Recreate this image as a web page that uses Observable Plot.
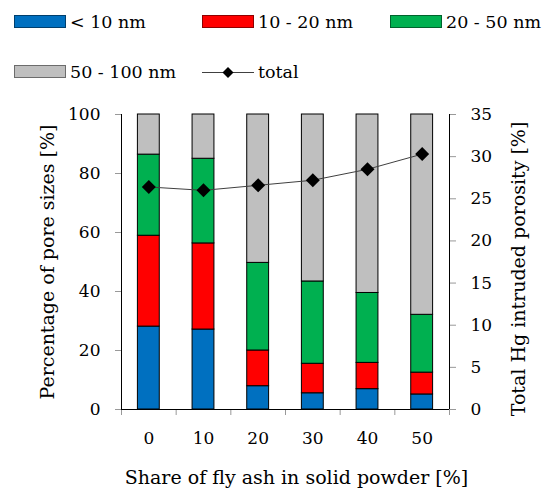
<!DOCTYPE html>
<html><head><meta charset="utf-8">
<script src="https://cdn.jsdelivr.net/npm/d3@7"></script>
<script src="https://cdn.jsdelivr.net/npm/@observablehq/plot@0.6"></script>
<style>
body{margin:0;background:#fff;font-family:"DejaVu Serif",serif;}
svg{display:block;}
</style></head><body>
<div id="legend"></div>
<div id="chart"></div>
<script>
// ---- data ----
const shares = [0, 10, 20, 30, 40, 50];               // share of fly ash [%]
const seriesNames = ["< 10 nm", "10 - 20 nm", "20 - 50 nm", "50 - 100 nm"];
const below10 = [28.1, 27.1, 7.9, 5.5, 6.9, 5.1];
const from10to20 = [30.8, 29.2, 12.1, 10.0, 8.9, 7.4];
const from20to50 = [27.5, 28.7, 29.7, 27.9, 23.7, 19.6];
const from50to100 = [13.6, 15.0, 50.3, 56.6, 60.5, 67.9];
const totalPorosity = [26.4, 26.0, 26.6, 27.2, 28.5, 30.3]; // right axis [%]
const leftTicks = [0, 20, 40, 60, 80, 100];
const rightTicks = [0, 5, 10, 15, 20, 25, 30, 35];
const rightMax = 35;
const totalName = "total";
const xLabel = "Share of fly ash in solid powder [%]";
const yLabel = "Percentage of pore sizes [%]";
const y2Label = "Total Hg intruded porosity [%]";

// ---- styles ----
const colors = ["#0070C0", "#FF0000", "#00B050", "#BFBFBF"];
const halfBar = 2;

const seriesValues = [below10, from10to20, from20to50, from50to100];
const rows = [];
seriesValues.forEach((vals, si) => vals.forEach((v, i) => rows.push({share: shares[i], series: seriesNames[si], value: v})));
const totals = shares.map((s, i) => ({share: s, total: totalPorosity[i]}));
const toLeft = v => v * 100 / rightMax;

// ---- legend ----
const lg = d3.select("#legend").append("svg").attr("width", 544).attr("height", 100)
  .style("font-family", "DejaVu Serif").style("font-size", "17.5px");
const legendItems = [
  {i: 0, x: 14, y: 15, h: 13, tx: 70, ty: 28},
  {i: 1, x: 202, y: 15, h: 13, tx: 258, ty: 28},
  {i: 2, x: 390, y: 15, h: 13, tx: 446, ty: 28},
  {i: 3, x: 14, y: 65, h: 13, tx: 70, ty: 78}
];
legendItems.forEach(it => {
  lg.append("rect").attr("x", it.x + 0.5).attr("y", it.y + 0.5).attr("width", 51).attr("height", it.h - 1)
    .attr("fill", colors[it.i]).attr("stroke", d3.color(colors[it.i]).darker(1.6)).attr("stroke-width", 1);
  lg.append("text").attr("x", it.tx).attr("y", it.ty).text(seriesNames[it.i]);
});
lg.append("line").attr("x1", 202).attr("x2", 254).attr("y1", 72.5).attr("y2", 72.5).attr("stroke", "#404040").attr("stroke-width", 1);
lg.append("path").attr("d", "M228,67 L233.5,72.5 L228,78 L222.5,72.5Z").attr("fill", "#000");
lg.append("text").attr("x", 258).attr("y", 78).text(totalName);

// ---- chart ----
const chart = Plot.plot({
  width: 544,
  height: 390,
  marginTop: 14,
  marginBottom: 81,
  marginLeft: 121,
  marginRight: 95,
  style: {fontFamily: "DejaVu Serif", fontSize: "17px", background: "white", color: "black", overflow: "visible"},
  x: {domain: [-5, 55], axis: null},
  y: {domain: [0, 100], axis: null},
  color: {domain: seriesNames, range: colors},
  marks: [
    Plot.rectY(rows, {x: "share", x1: d => d.share - halfBar, x2: d => d.share + halfBar, y: "value", fill: "series", stroke: "#000", strokeWidth: 1}),
    Plot.line(totals, {x: "share", y: d => toLeft(d.total), stroke: "#404040", strokeWidth: 1}),
    Plot.dot(totals, {x: "share", y: d => toLeft(d.total), symbol: "diamond2", r: 6.3, fill: "#000", stroke: "none"}),
    Plot.axisY(leftTicks, {anchor: "left", tickSize: 6, tickPadding: 15, stroke: "#999", label: null, fontSize: 17}),
    Plot.axisY(rightTicks.map(toLeft), {anchor: "right", tickSize: 6, tickPadding: 15, stroke: "#999", label: null, fontSize: 17, tickFormat: v => Math.round(v * rightMax / 100)}),
    Plot.axisX(d3.range(shares.length + 1).map(i => i * 10 - 5), {tickSize: 6, stroke: "#999", tickFormat: () => "", label: null}),
    Plot.axisX(shares, {tickSize: 0, tickPadding: 22, label: null, fontSize: 17}),
    Plot.ruleX([-5, 55], {stroke: "#000"}),
    Plot.ruleY([0], {stroke: "#000"}),
    Plot.text([yLabel], {frameAnchor: "left", rotate: -90, dx: -74, textAnchor: "middle", lineAnchor: "middle", fontSize: 19}),
    Plot.text([y2Label], {frameAnchor: "right", rotate: -90, dx: 69, dy: 7, textAnchor: "middle", lineAnchor: "middle", fontSize: 19}),
    Plot.text([xLabel], {frameAnchor: "bottom", dx: 11, dy: 68, textAnchor: "middle", lineAnchor: "middle", fontSize: 19})
  ]
});
document.getElementById("chart").appendChild(chart);
</script>
</body></html>
